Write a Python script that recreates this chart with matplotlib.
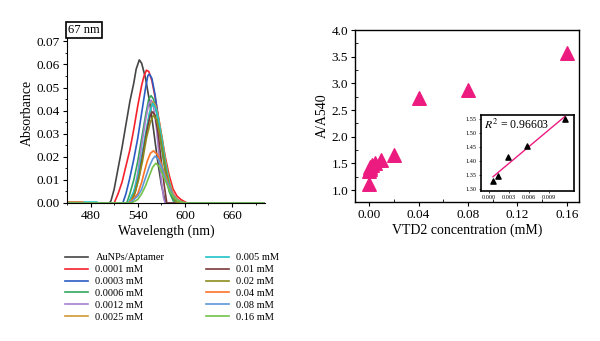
import numpy as np
import matplotlib
matplotlib.use("Agg")
import matplotlib.pyplot as plt
from matplotlib.ticker import MultipleLocator

plt.rcParams['font.family'] = ['Liberation Serif', 'DejaVu Serif']
plt.rcParams['mathtext.fontset'] = 'stix'

# ---- spectra (wavelength nm, absorbance) ----
labels = ["AuNPs/Aptamer", "0.0001 mM", "0.0003 mM", "0.0006 mM", "0.0012 mM",
          "0.0025 mM", "0.005 mM", "0.01 mM", "0.02 mM", "0.04 mM",
          "0.08 mM", "0.16 mM"]
colors = ["#454545", "#f5222d", "#2a5bc4", "#33a55e", "#a77fd0", "#d19a35",
          "#1fc4c8", "#7b3a3a", "#8c8c1e", "#fb7327", "#5d97d8", "#73c24a"]

wl_black = [450, 504, 506, 510, 515, 520, 524, 530, 535, 538, 542, 545, 550, 555, 560, 565, 570, 574, 576, 700]
ab_black = [0, 0, 0.001, 0.006, 0.015, 0.024, 0.032, 0.044, 0.052, 0.058, 0.062, 0.0605, 0.054, 0.044, 0.032, 0.019, 0.008, 0.002, 0, 0]

wl_r1 = [450, 510, 515, 520, 525, 530, 535, 540, 545, 548, 551, 554, 558, 562, 566, 570, 575, 580, 585, 590, 595, 600, 603, 700]
ab_r1 = [0, 0, 0.004, 0.009, 0.016, 0.023, 0.032, 0.042, 0.051, 0.055, 0.0575, 0.057, 0.053, 0.046, 0.038, 0.030, 0.020, 0.012, 0.006, 0.003, 0.0015, 0.0005, 0, 0]

wl_r3 = [450, 521, 525, 530, 535, 540, 545, 550, 553, 555, 558, 562, 566, 570, 575, 580, 585, 590, 700]
ab_r3 = [0, 0, 0.004, 0.011, 0.019, 0.028, 0.039, 0.050, 0.0553, 0.0558, 0.054, 0.047, 0.037, 0.026, 0.015, 0.007, 0.002, 0, 0]

wl_r6 = [450, 526, 530, 535, 540, 545, 550, 554, 557, 560, 564, 568, 572, 576, 580, 585, 588, 700]
ab_r6 = [0, 0, 0.004, 0.010, 0.018, 0.028, 0.038, 0.045, 0.0465, 0.045, 0.039, 0.030, 0.020, 0.011, 0.005, 0.001, 0, 0]

wl_r12 = [450, 532, 536, 540, 545, 550, 554, 557, 560, 564, 567, 570, 573, 575, 700]
ab_r12 = [0, 0, 0.006, 0.013, 0.025, 0.036, 0.043, 0.0446, 0.042, 0.032, 0.021, 0.010, 0.002, 0, 0]

wl_r25 = [450, 530, 535, 540, 545, 550, 555, 559, 563, 567, 571, 575, 580, 585, 590, 594, 700]
ab_r25 = [0, 0, 0.004, 0.010, 0.019, 0.029, 0.039, 0.0439, 0.042, 0.036, 0.028, 0.019, 0.010, 0.004, 0.001, 0, 0]

wl_r50 = [450, 488, 490, 528, 535, 540, 545, 550, 555, 559, 563, 567, 571, 575, 580, 585, 590, 700]
ab_r50 = [0.0004, 0.0004, 0, 0, 0.005, 0.011, 0.020, 0.030, 0.039, 0.0432, 0.041, 0.035, 0.027, 0.018, 0.009, 0.003, 0, 0]

wl_r100 = [450, 532, 537, 542, 547, 552, 556, 559, 562, 566, 570, 574, 577, 700]
ab_r100 = [0, 0, 0.005, 0.012, 0.022, 0.032, 0.038, 0.0395, 0.038, 0.030, 0.018, 0.007, 0, 0]

wl_r200 = [450, 530, 536, 541, 546, 551, 556, 560, 564, 568, 572, 576, 581, 586, 590, 700]
ab_r200 = [0, 0, 0.004, 0.010, 0.018, 0.028, 0.035, 0.038, 0.036, 0.030, 0.022, 0.014, 0.006, 0.002, 0, 0]

wl_r400 = [450, 470, 472, 528, 535, 540, 545, 548, 552, 556, 560, 565, 570, 575, 580, 585, 590, 595, 599, 700]
ab_r400 = [0.0004, 0.0004, 0, 0, 0.002, 0.004, 0.009, 0.013, 0.018, 0.0215, 0.0226, 0.021, 0.017, 0.012, 0.0075, 0.004, 0.0018, 0.0006, 0, 0]

wl_r800 = [450, 530, 540, 545, 550, 555, 559, 562, 566, 570, 575, 580, 585, 590, 595, 600, 700]
ab_r800 = [0, 0, 0.003, 0.006, 0.011, 0.016, 0.019, 0.0203, 0.019, 0.016, 0.011, 0.007, 0.0035, 0.0015, 0.0005, 0, 0]

wl_r1600 = [450, 532, 540, 545, 550, 555, 559, 563, 567, 571, 576, 581, 586, 591, 597, 603, 700]
ab_r1600 = [0, 0, 0.0015, 0.004, 0.0075, 0.012, 0.0155, 0.0172, 0.016, 0.013, 0.009, 0.005, 0.0025, 0.001, 0.0003, 0, 0]

spectra = [(wl_black, ab_black), (wl_r1, ab_r1), (wl_r3, ab_r3), (wl_r6, ab_r6),
           (wl_r12, ab_r12), (wl_r25, ab_r25), (wl_r50, ab_r50), (wl_r100, ab_r100),
           (wl_r200, ab_r200), (wl_r400, ab_r400), (wl_r800, ab_r800), (wl_r1600, ab_r1600)]

# ---- ratio vs concentration ----
conc = [0.0001, 0.0003, 0.0006, 0.0012, 0.0025, 0.005, 0.01, 0.02, 0.04, 0.08, 0.16]
ratio = [1.12, 1.36, 1.40, 1.44, 1.47, 1.50, 1.57, 1.65, 2.72, 2.88, 3.57]

inset_x = [0.0006, 0.0013, 0.0028, 0.0057, 0.0114]
inset_y = [1.329, 1.345, 1.415, 1.455, 1.55]

fig = plt.figure(figsize=(6, 3.41), dpi=100)

# left panel
ax1 = fig.add_axes([0.1117, 0.4047, 0.33, 0.528])
for (wl, ab), c, lab in zip(spectra, colors, labels):
    ax1.plot(wl, ab, color=c, lw=1.2, label=lab)
ax1.set_xlim(450, 702)
ax1.set_ylim(0, 0.078)
ax1.set_xticks([480, 540, 600, 660])
ax1.xaxis.set_minor_locator(MultipleLocator(30))
ax1.yaxis.set_major_locator(MultipleLocator(0.01))
ax1.yaxis.set_minor_locator(MultipleLocator(0.005))
ax1.yaxis.set_major_formatter(matplotlib.ticker.FormatStrFormatter('%.2f'))
ax1.spines['top'].set_visible(False)
ax1.spines['right'].set_visible(False)
ax1.tick_params(which='major', direction='out', length=3, width=0.8, labelsize=9.5, pad=2)
ax1.tick_params(which='minor', direction='out', length=1.5, width=0.6)
ax1.set_xlabel("Wavelength (nm)", fontsize=10, labelpad=2)
ax1.set_ylabel("Absorbance", fontsize=10, labelpad=2)
ax1.text(0.006, 0.995, "67 nm", transform=ax1.transAxes, fontsize=9, ha='left', va='top',
         bbox=dict(boxstyle='square,pad=0.15', fc='white', ec='black', lw=1.2))
ax1.legend(loc='upper left', bbox_to_anchor=(-0.03, -0.255), ncol=2, frameon=False,
           fontsize=7.5, handlelength=2.2, handletextpad=0.7, columnspacing=4.0,
           labelspacing=0.25, borderaxespad=0)

# right panel
ax2 = fig.add_axes([0.5917, 0.4076, 0.3733, 0.5044])
ax2.scatter(conc, ratio, marker='^', s=95, color='#ec1b7f', zorder=3)
ax2.set_xlim(-0.0113, 0.1697)
ax2.set_ylim(0.775, 4.0)
ax2.xaxis.set_major_locator(MultipleLocator(0.04))
ax2.xaxis.set_minor_locator(MultipleLocator(0.02))
ax2.yaxis.set_major_locator(MultipleLocator(0.5))
ax2.yaxis.set_minor_locator(MultipleLocator(0.25))
ax2.xaxis.set_major_formatter(matplotlib.ticker.FormatStrFormatter('%.2f'))
ax2.yaxis.set_major_formatter(matplotlib.ticker.FormatStrFormatter('%.1f'))
ax2.tick_params(which='major', direction='out', length=3, width=0.8, labelsize=9.5, pad=2)
ax2.tick_params(which='minor', direction='in', length=2, width=0.6)
for s in ax2.spines.values():
    s.set_linewidth(1.0)
ax2.set_xlabel("VTD2 concentration (mM)", fontsize=10, labelpad=2)
ax2.set_ylabel("A/A540", fontsize=10, labelpad=2)

# inset
ax3 = fig.add_axes([0.8017, 0.4399, 0.155, 0.2229])
ax3.scatter(inset_x, inset_y, marker='^', s=14, color='black', zorder=3)
k, b = np.polyfit(inset_x, inset_y, 1)
fx = np.array([inset_x[0], inset_x[-1]])
ax3.plot(fx, k * fx + b, color='#ec1b7f', lw=1.0)
ax3.set_xlim(-0.0012, 0.01275)
ax3.set_ylim(1.293, 1.564)
ax3.set_xticks([0.000, 0.003, 0.006, 0.009])
ax3.set_yticks([1.30, 1.35, 1.40, 1.45, 1.50, 1.55])
ax3.xaxis.set_major_formatter(matplotlib.ticker.FormatStrFormatter('%.3f'))
ax3.yaxis.set_major_formatter(matplotlib.ticker.FormatStrFormatter('%.2f'))
ax3.tick_params(which='major', direction='out', length=1.5, width=0.5, labelsize=4.5, pad=1.5)
for s in ax3.spines.values():
    s.set_linewidth(1.2)
ax3.text(0.03, 0.97, r"$R^2$ = 0.96603", transform=ax3.transAxes, fontsize=8.5,
         ha='left', va='top')

fig.savefig("out.png", dpi=100)
